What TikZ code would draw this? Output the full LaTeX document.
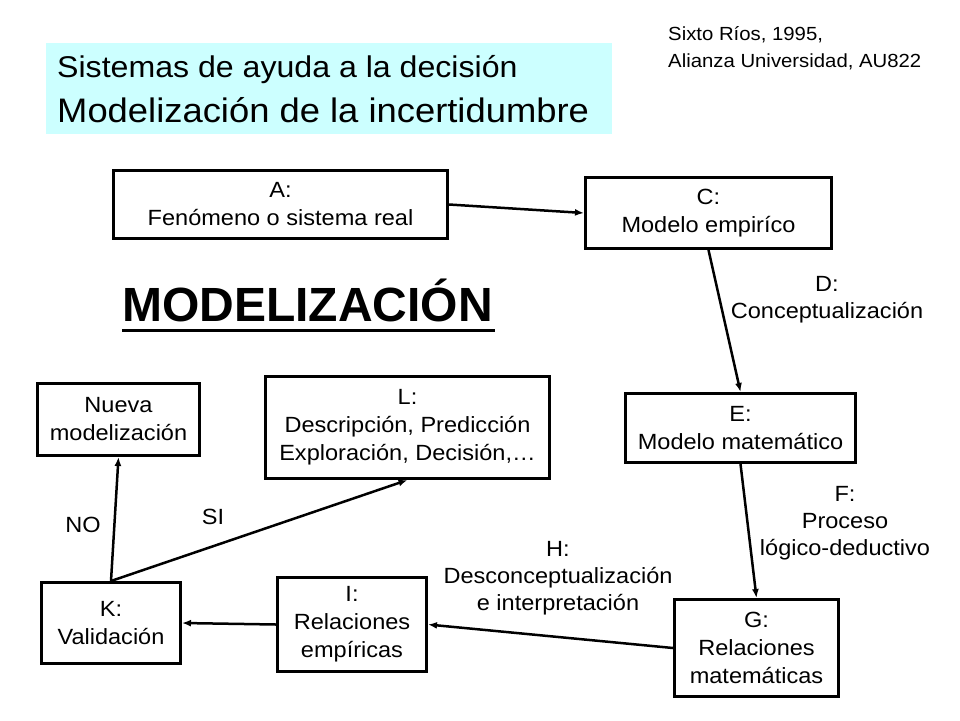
\documentclass[tikz,border=0pt]{standalone}
\usepackage{fontspec}
\setmainfont{Liberation Sans}[FakeStretch=1.07]
\newfontfamily\headfont{Liberation Sans}
\usetikzlibrary{arrows.meta}
\definecolor{titlecyan}{HTML}{CCFFFF}
\tikzset{
    box/.style={draw, line width=3pt, align=center, inner sep=2pt, font=\fontsize{22}{28}\selectfont},
    tag/.style={align=center, inner sep=0pt, font=\fontsize{22}{27}\selectfont},
    flow/.style={-{Latex[length=9pt,width=7pt]}, line width=2.5pt},
}
\begin{document}
\begin{tikzpicture}[x=1pt,y=-1pt]
    \useasboundingbox (0,0) rectangle (960,720);

    % title block
    \fill[titlecyan] (46,43) rectangle (612,134);
    \node[anchor=base west, inner sep=0pt, font=\fontsize{30}{36}\selectfont] (T1) at (57,77) {Sistemas de ayuda a la decisión};
    \node[anchor=base west, inner sep=0pt, font=\fontsize{34}{40}\selectfont] (T2) at (57,122) {Modelización de la incertidumbre};

    \node[anchor=base west, inner sep=0pt, font=\fontsize{19}{24}\selectfont] (R1) at (668,40) {Sixto Ríos, 1995,};
    \node[anchor=base west, inner sep=0pt, font=\fontsize{19}{24}\selectfont] (R2) at (668,67) {Alianza Universidad, AU822};

    \node[anchor=base west, inner sep=0pt, font=\headfont\bfseries\fontsize{48}{52}\selectfont] (M) at (122,321) {MODELIZACIÓN};
    \draw[line width=3pt] ([yshift=-9pt]M.base west) -- ([yshift=-9pt,xshift=2pt]M.base east);

    % boxes
    \node[box, minimum width=334pt, minimum height=68pt] (A) at (280.5,204.5) {A:\\Fenómeno o sistema real};
    \node[box, minimum width=246pt, minimum height=71pt] (C) at (708.5,213) {C:\\Modelo empiríco};
    \node[box, minimum width=230pt, minimum height=69pt] (E) at (740.5,428) {E:\\Modelo matemático};
    \node[box, minimum width=164pt, minimum height=97pt] (G) at (756.5,648) {G:\\Relaciones\\matemáticas};
    \node[box, minimum width=149pt, minimum height=94pt] (I) at (352,624.5) {I:\\Relaciones\\empíricas};
    \node[box, minimum width=139pt, minimum height=81pt] (K) at (111,623) {K:\\Validación};
    \node[box, minimum width=162pt, minimum height=72pt] (N) at (118.5,419.5) {Nueva\\modelización};
    \node[box, minimum width=284pt, minimum height=102pt] (L) at (407.5,427.5) {L:\\Descripción, Predicción\\Exploración, Decisión,…};

    % labels
    \node[tag] (D) at (827,300) {D:\\Conceptualización};
    \node[tag] (F) at (845,523) {F:\\Proceso\\lógico-deductivo};
    \node[tag] (H) at (558,578) {H:\\Desconceptualización\\e interpretación};
    \node[tag] (NO) at (83,525) {NO};
    \node[tag] (SI) at (213,517) {SI};

    \foreach \from/\to in {A.east/C.west, C.south/E.north, E.south/G.north, G.west/I.east, I.west/K.east, K.north/N.south, K.north/L.south} {
        \draw[flow] (\from) -- (\to);
    }

\end{tikzpicture}
\end{document}
